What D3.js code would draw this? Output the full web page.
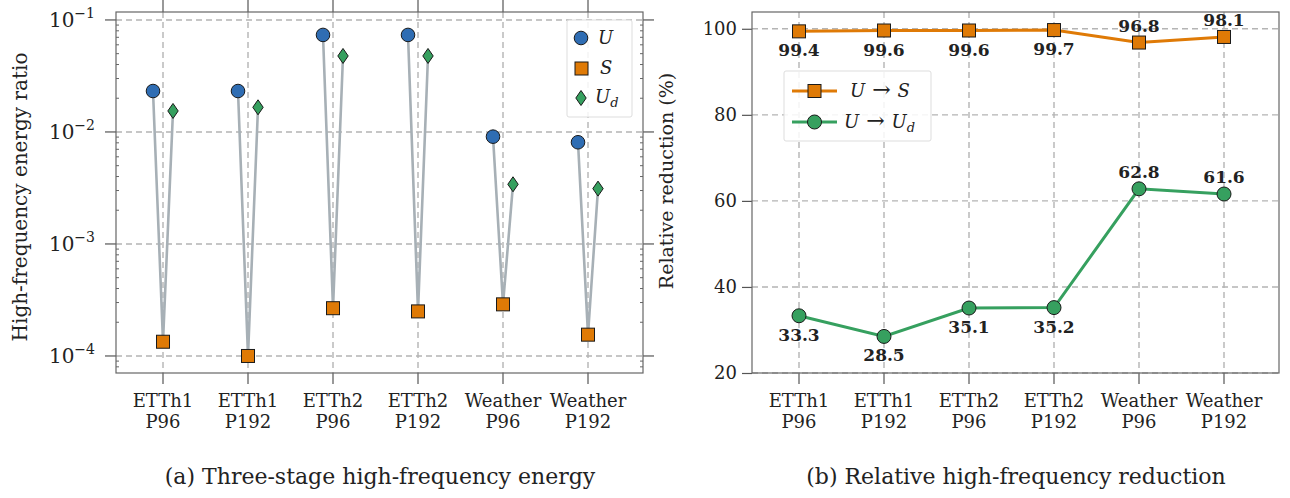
<!DOCTYPE html>
<html>
<head>
<meta charset="utf-8">
<script src="https://cdn.jsdelivr.net/npm/d3@7"></script>
<style>
body { margin: 0; background: #fff; }
svg text { font-family: "DejaVu Serif", serif; fill: #222; }
</style>
</head>
<body>
<div class="static-image"></div>
<script>
var categories = [["ETTh1", "P96"], ["ETTh1", "P192"], ["ETTh2", "P96"], ["ETTh2", "P192"], ["Weather", "P96"], ["Weather", "P192"]];
var energyU = [0.0232, 0.0232, 0.0735, 0.0735, 0.00908, 0.00809];
var energyS = [0.000134, 0.000100, 0.000267, 0.000250, 0.000289, 0.000155];
var energyUd = [0.0154, 0.0166, 0.0477, 0.0477, 0.00341, 0.00312];
var reductionS = [99.4, 99.6, 99.6, 99.7, 96.8, 98.1];
var reductionUd = [33.3, 28.5, 35.1, 35.2, 62.8, 61.6];
var logTicks = [1e-1, 1e-2, 1e-3, 1e-4];
var linTicks = [20, 40, 60, 80, 100];

var width = 1290, height = 498;
var colU = "#2f6db3", colS = "#df7a06", colUd = "#36a05f", colLink = "#a7b0b6";
var plotTop = 12, plotBottom = 373;

var svg = d3.select(".static-image").append("svg")
    .attr("width", width).attr("height", height);

function gridStyle(sel) {
    sel.attr("stroke", "#b4b4b4").attr("stroke-width", 1.4).attr("stroke-dasharray", "6,4");
}

function catLabels(g, x) {
    var t = g.selectAll(".cat").data(categories).enter().append("text")
        .attr("text-anchor", "middle").style("font-size", "18px");
    t.append("tspan").attr("x", function (d, i) { return x(i); }).attr("y", plotBottom + 34).text(function (d) { return d[0]; });
    t.append("tspan").attr("x", function (d, i) { return x(i); }).attr("y", plotBottom + 55).text(function (d) { return d[1]; });
}

// ---------- (a) left panel ----------
var xa = d3.scaleLinear().domain([-0.553, 5.647]).range([116, 643]);
var ya = d3.scaleLog().domain([Math.pow(10, -4.152), Math.pow(10, -0.929)]).range([plotBottom, plotTop]);
var ga = svg.append("g");

ga.selectAll(".hg").data(logTicks).enter().append("line")
    .attr("x1", 116).attr("x2", 643).attr("y1", ya).attr("y2", ya).call(gridStyle);
ga.selectAll(".vg").data(categories).enter().append("line")
    .attr("x1", function (d, i) { return xa(i); }).attr("x2", function (d, i) { return xa(i); })
    .attr("y1", plotTop).attr("y2", plotBottom).call(gridStyle);

// minor ticks inside left and right spines
var minor = [];
[-5, -4, -3, -2, -1].forEach(function (e) {
    for (var k = 2; k < 10; k++) minor.push(k * Math.pow(10, e));
});
minor = minor.filter(function (v) { return v > ya.domain()[0] && v < ya.domain()[1]; });
ga.selectAll(".mnl").data(minor).enter().append("line")
    .attr("x1", 116).attr("x2", 119).attr("y1", ya).attr("y2", ya).attr("stroke", "#666");
ga.selectAll(".mnr").data(minor).enter().append("line")
    .attr("x1", 640).attr("x2", 643).attr("y1", ya).attr("y2", ya).attr("stroke", "#666");

// major ticks outside
ga.selectAll(".mjl").data(logTicks).enter().append("line")
    .attr("x1", 105).attr("x2", 116).attr("y1", ya).attr("y2", ya).attr("stroke", "#555").attr("stroke-width", 1.2);
ga.selectAll(".mjr").data(logTicks).enter().append("line")
    .attr("x1", 643).attr("x2", 654).attr("y1", ya).attr("y2", ya).attr("stroke", "#555").attr("stroke-width", 1.2);
ga.selectAll(".bt").data(categories).enter().append("line")
    .attr("x1", function (d, i) { return xa(i); }).attr("x2", function (d, i) { return xa(i); })
    .attr("y1", plotBottom).attr("y2", plotBottom + 11).attr("stroke", "#555").attr("stroke-width", 1.2);
ga.selectAll(".tt").data(categories).enter().append("line")
    .attr("x1", function (d, i) { return xa(i); }).attr("x2", function (d, i) { return xa(i); })
    .attr("y1", 0).attr("y2", plotTop).attr("stroke", "#555").attr("stroke-width", 1.2);

ga.append("rect").attr("x", 116).attr("y", plotTop).attr("width", 643 - 116).attr("height", plotBottom - plotTop)
    .attr("fill", "none").attr("stroke", "#666").attr("stroke-width", 1.2);

var yl = ga.selectAll(".yl").data(logTicks).enter().append("text")
    .attr("x", 95).attr("y", function (d) { return ya(d) + 7; })
    .attr("text-anchor", "end").style("font-size", "20px");
yl.append("tspan").text("10");
yl.append("tspan").attr("dy", -9).style("font-size", "14px")
    .text(function (d) { return "\u2212" + Math.round(-Math.log10(d)); });

catLabels(ga, xa);

ga.append("text").attr("transform", "translate(27,197) rotate(-90)")
    .attr("text-anchor", "middle").style("font-size", "20px").text("High-frequency energy ratio");

// links U -> S -> Ud
var off = 10;
ga.selectAll(".lk").data(categories).enter().append("polyline")
    .attr("points", function (d, i) {
        return [[xa(i) - off, ya(energyU[i])], [xa(i), ya(energyS[i])], [xa(i) + off, ya(energyUd[i])]].join(" ");
    })
    .attr("fill", "none").attr("stroke", colLink).attr("stroke-width", 2.6);

ga.selectAll(".mu").data(energyU).enter().append("circle")
    .attr("cx", function (d, i) { return xa(i) - off; }).attr("cy", ya).attr("r", 6.8)
    .attr("fill", colU).attr("stroke", "#1a1a1a").attr("stroke-width", 1);
ga.selectAll(".ms").data(energyS).enter().append("rect")
    .attr("x", function (d, i) { return xa(i) - 6.5; }).attr("y", function (d) { return ya(d) - 6.5; })
    .attr("width", 13).attr("height", 13)
    .attr("fill", colS).attr("stroke", "#1a1a1a").attr("stroke-width", 1);
var diamond = "M0,-7.5L5.2,0L0,7.5L-5.2,0Z";
ga.selectAll(".md").data(energyUd).enter().append("path")
    .attr("transform", function (d, i) { return "translate(" + (xa(i) + off) + "," + ya(d) + ")"; })
    .attr("d", diamond).attr("fill", colUd).attr("stroke", "#1a1a1a").attr("stroke-width", 1);

// legend (a)
var la = ga.append("g").attr("transform", "translate(567,20)");
la.append("rect").attr("width", 65).attr("height", 97).attr("rx", 2)
    .attr("fill", "#fff").attr("fill-opacity", 0.85).attr("stroke", "#ddd");
la.append("circle").attr("cx", 14).attr("cy", 18).attr("r", 6.8).attr("fill", colU).attr("stroke", "#1a1a1a");
la.append("rect").attr("x", 8).attr("y", 42).attr("width", 13).attr("height", 13).attr("fill", colS).attr("stroke", "#1a1a1a");
la.append("path").attr("transform", "translate(14,78)").attr("d", diamond).attr("fill", colUd).attr("stroke", "#1a1a1a");
la.append("text").attr("x", 31).attr("y", 24).style("font-size", "18px").style("font-style", "italic").text("U");
la.append("text").attr("x", 33).attr("y", 54).style("font-size", "18px").style("font-style", "italic").text("S");
var lud = la.append("text").attr("x", 28).attr("y", 83).style("font-size", "18px").style("font-style", "italic");
lud.append("tspan").text("U");
lud.append("tspan").attr("dy", 4).style("font-size", "13px").text("d");

// ---------- (b) right panel ----------
var xb = d3.scaleLinear().domain([-0.553, 5.647]).range([752, 1279]);
var yb = d3.scaleLinear().domain([20, 103.9]).range([plotBottom, plotTop]);
var gb = svg.append("g");

gb.selectAll(".hg").data(linTicks).enter().append("line")
    .attr("x1", 752).attr("x2", 1279).attr("y1", yb).attr("y2", yb).call(gridStyle);
gb.selectAll(".vg").data(categories).enter().append("line")
    .attr("x1", function (d, i) { return xb(i); }).attr("x2", function (d, i) { return xb(i); })
    .attr("y1", plotTop).attr("y2", plotBottom).call(gridStyle);

gb.append("g").attr("transform", "translate(752,0)")
    .call(d3.axisLeft(yb).tickValues(linTicks).tickSize(10).tickPadding(5))
    .call(function (g) {
        g.select(".domain").remove();
        g.selectAll(".tick line").attr("stroke", "#555").attr("stroke-width", 1.2);
        g.selectAll(".tick text").style("font-family", "DejaVu Serif").style("font-size", "18px").attr("fill", "#222");
    });
gb.selectAll(".bt").data(categories).enter().append("line")
    .attr("x1", function (d, i) { return xb(i); }).attr("x2", function (d, i) { return xb(i); })
    .attr("y1", plotBottom).attr("y2", plotBottom + 11).attr("stroke", "#555").attr("stroke-width", 1.2);

gb.append("rect").attr("x", 752).attr("y", plotTop).attr("width", 1279 - 752).attr("height", plotBottom - plotTop)
    .attr("fill", "none").attr("stroke", "#666").attr("stroke-width", 1.2);

catLabels(gb, xb);

gb.append("text").attr("transform", "translate(673,181) rotate(-90)")
    .attr("text-anchor", "middle").style("font-size", "19px").text("Relative reduction (%)");

var line = d3.line().x(function (d, i) { return xb(i); }).y(function (d) { return yb(d); });
gb.append("path").datum(reductionS).attr("d", line).attr("fill", "none").attr("stroke", colS).attr("stroke-width", 3);
gb.append("path").datum(reductionUd).attr("d", line).attr("fill", "none").attr("stroke", colUd).attr("stroke-width", 3);

gb.selectAll(".ps").data(reductionS).enter().append("rect")
    .attr("x", function (d, i) { return xb(i) - 6.5; }).attr("y", function (d) { return yb(d) - 6.5; })
    .attr("width", 13).attr("height", 13).attr("fill", colS).attr("stroke", "#1a1a1a").attr("stroke-width", 1);
gb.selectAll(".pu").data(reductionUd).enter().append("circle")
    .attr("cx", function (d, i) { return xb(i); }).attr("cy", yb).attr("r", 7)
    .attr("fill", colUd).attr("stroke", "#1a1a1a").attr("stroke-width", 1);

function valueLabels(data) {
    gb.selectAll(null).data(data).enter().append("text")
        .attr("x", function (d, i) { return xb(i); })
        .attr("y", function (d, i) { return i < 4 ? yb(d) + 25 : yb(d) - 11; })
        .attr("text-anchor", "middle").style("font-size", "17px").style("font-weight", "bold").attr("fill", "#111")
        .text(function (d) { return d.toFixed(1); });
}
valueLabels(reductionS);
valueLabels(reductionUd);

// legend (b)
var lb = gb.append("g").attr("transform", "translate(784,71)");
lb.append("rect").attr("width", 147).attr("height", 70).attr("rx", 2)
    .attr("fill", "#fff").attr("fill-opacity", 0.85).attr("stroke", "#ddd");
lb.append("line").attr("x1", 8).attr("x2", 53).attr("y1", 20).attr("y2", 20).attr("stroke", colS).attr("stroke-width", 3);
lb.append("rect").attr("x", 24).attr("y", 13.5).attr("width", 13).attr("height", 13).attr("fill", colS).attr("stroke", "#1a1a1a");
lb.append("line").attr("x1", 8).attr("x2", 53).attr("y1", 51).attr("y2", 51).attr("stroke", colUd).attr("stroke-width", 3);
lb.append("circle").attr("cx", 30.5).attr("cy", 51).attr("r", 7).attr("fill", colUd).attr("stroke", "#1a1a1a");
var l1 = lb.append("text").attr("x", 66).attr("y", 26).style("font-size", "18px");
l1.append("tspan").style("font-style", "italic").text("U");
l1.append("tspan").style("font-size", "22px").text(" \u2192 ");
l1.append("tspan").style("font-style", "italic").text("S");
var l2 = lb.append("text").attr("x", 60).attr("y", 57).style("font-size", "18px");
l2.append("tspan").style("font-style", "italic").text("U");
l2.append("tspan").style("font-size", "22px").text(" \u2192 ");
l2.append("tspan").style("font-style", "italic").text("U");
l2.append("tspan").attr("dy", 4).style("font-size", "13px").style("font-style", "italic").text("d");

// captions
svg.append("text").attr("x", 380).attr("y", 484).attr("text-anchor", "middle").style("font-size", "22px")
    .text("(a) Three-stage high-frequency energy");
svg.append("text").attr("x", 1016).attr("y", 484).attr("text-anchor", "middle").style("font-size", "22px")
    .text("(b) Relative high-frequency reduction");
</script>
</body>
</html>
